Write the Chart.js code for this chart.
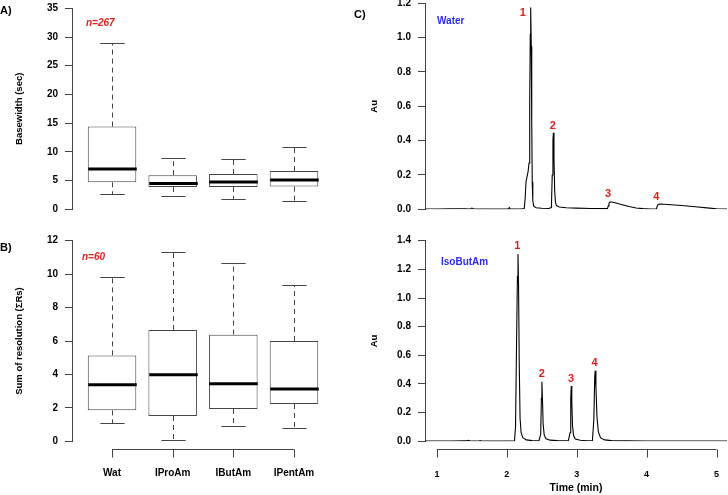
<!DOCTYPE html>
<html>
<head>
<meta charset="utf-8">
<script src="https://cdn.jsdelivr.net/npm/chart.js@4.4.1/dist/chart.umd.min.js"></script>
<style>
  html, body { margin: 0; padding: 0; background: #fff; overflow: hidden; }
  #fig { position: relative; width: 728px; height: 495px; overflow: hidden;
         font-family: 'Liberation Sans', Arial, sans-serif; font-weight: bold; }
  #fig canvas { position: absolute; }
  .lbl { position: absolute; font-size: 10px; line-height: 12px; white-space: nowrap; }
  .panel { font-size: 11px; }
  .red { color: #e0201c; font-style: italic; }
  .blue { color: #2b2bf0; }
</style>
</head>
<body>
<div id="fig">
  <canvas id="chartA" width="345" height="250" style="left:0;top:-10px"></canvas>
  <canvas id="chartB" width="345" height="270" style="left:0;top:225px"></canvas>
  <canvas id="chartC1" width="383" height="235" style="left:345px;top:-10px"></canvas>
  <canvas id="chartC2" width="383" height="270" style="left:345px;top:225px"></canvas>

  <div class="lbl panel" style="left:0;top:4px">A)</div>
  <div class="lbl panel" style="left:0;top:241px">B)</div>
  <div class="lbl panel" style="left:354px;top:8px">C)</div>
  <div class="lbl red" style="left:86px;top:17px">n=267</div>
  <div class="lbl red" style="left:82px;top:251px">n=60</div>
  <div class="lbl blue" style="left:437px;top:15px">Water</div>
  <div class="lbl blue" style="left:441px;top:256px">IsoButAm</div>
</div>

<script>
const FONT = "'Liberation Sans', Arial, sans-serif";
const AXIS = '#444';

// box plot groups
const groups = ['Wat', 'IProAm', 'IButAm', 'IPentAm'];
const groupPos = [1, 2, 3, 4];

// A) basewidth (sec)
const bwLow  = [2.6, 2.4, 1.8, 1.45];
const bwQ1   = [4.7, 3.9, 3.9, 3.95];
const bwMed  = [7.0, 4.5, 4.75, 5.1];
const bwQ3   = [14.4, 5.95, 6.15, 6.65];
const bwHigh = [29.0, 9.0, 8.8, 10.85];

// B) sum of resolution
const rsLow  = [1.1, 0.1, 0.93, 0.81];
const rsQ1   = [1.85, 1.51, 1.93, 2.23];
const rsMed  = [3.39, 3.98, 3.45, 3.13];
const rsQ3   = [5.14, 6.66, 6.38, 6.0];
const rsHigh = [9.81, 11.34, 10.68, 9.37];

// C) chromatograms
const waterTime = [0.83, 1.0, 1.2, 1.4, 1.48, 1.5, 1.53, 1.7, 1.9, 2.02, 2.036, 2.05, 2.2, 2.25, 2.262, 2.275,
  2.29, 2.305, 2.318, 2.328, 2.336, 2.342, 2.35, 2.357, 2.364, 2.372, 2.385, 2.42, 2.5, 2.6, 2.638, 2.65,
  2.66, 2.667, 2.675, 2.685, 2.695, 2.71, 2.75, 2.85, 3.0, 3.2, 3.44, 3.452, 3.462, 3.48, 3.55, 3.65,
  3.75, 3.85, 3.95, 4.05, 4.14, 4.152, 4.165, 4.19, 4.3, 4.5, 4.7, 4.9, 5.0, 5.15];
const waterAu = [0.002, 0.002, 0.003, 0.003, 0.002, 0.007, 0.002, 0.001, 0.001, 0.001, 0.01, 0.001, 0.002, 0.004, 0.06, 0.16,
  0.19, 0.22, 0.27, 0.62, 1.02, 1.176, 0.95, 0.5, 0.16, 0.05, 0.018, 0.009, 0.006, 0.005, 0.01, 0.2,
  0.4, 0.446, 0.3, 0.11, 0.045, 0.022, 0.013, 0.009, 0.007, 0.005, 0.004, 0.02, 0.035, 0.044, 0.038, 0.027,
  0.016, 0.008, 0.004, 0.002, 0.002, 0.018, 0.028, 0.031, 0.028, 0.022, 0.015, 0.007, 0.003, 0.002];

const isoTime = [0.83, 1.0, 1.2, 1.4, 1.43, 1.45, 1.47, 1.6, 1.62, 1.64, 1.8, 2.0, 2.11, 2.125, 2.14, 2.152,
  2.16, 2.168, 2.178, 2.19, 2.205, 2.23, 2.28, 2.36, 2.46, 2.485, 2.495, 2.502, 2.51, 2.52, 2.535, 2.56,
  2.62, 2.72, 2.88, 2.905, 2.915, 2.922, 2.93, 2.94, 2.955, 2.98, 3.05, 3.15, 3.225, 3.245, 3.258, 3.265,
  3.275, 3.29, 3.31, 3.34, 3.4, 3.5, 3.7, 4.0, 4.5, 5.15];
const isoAu = [0.001, 0.002, 0.002, 0.003, 0.003, 0.007, 0.003, 0.002, 0.005, 0.002, 0.001, 0.001, 0.002, 0.1, 0.7, 1.15,
  1.307, 1.1, 0.55, 0.16, 0.06, 0.025, 0.01, 0.005, 0.004, 0.05, 0.3, 0.416, 0.3, 0.12, 0.045, 0.018,
  0.008, 0.005, 0.004, 0.06, 0.3, 0.386, 0.28, 0.11, 0.04, 0.016, 0.007, 0.004, 0.005, 0.15, 0.45, 0.493,
  0.38, 0.17, 0.065, 0.025, 0.01, 0.005, 0.003, 0.002, 0.002, 0.002];

const peakNames = ['1', '2', '3', '4'];
const waterLabelT  = [2.23, 2.66, 3.45, 4.14];
const waterLabelAu = [1.143, 0.485, 0.089, 0.072];
const isoLabelT  = [2.15, 2.50, 2.92, 3.255];
const isoLabelAu = [1.363, 0.47, 0.435, 0.546];

const timeTicks = [1, 2, 3, 4, 5];

function line(ctx, x0, y0, x1, y1) {
  ctx.beginPath(); ctx.moveTo(x0, y0); ctx.lineTo(x1, y1); ctx.stroke();
}

// whiskers, medians, R-style x axis and peak numbers
const rPlot = {
  id: 'rPlot',
  afterDatasetsDraw(chart, args, opts) {
    const ctx = chart.ctx, xs = chart.scales.x, ys = chart.scales.y;
    ctx.save();
    if (opts.box) {
      const b = opts.box;
      const bars = chart.getDatasetMeta(0).data;
      b.pos.forEach((p, i) => {
        const px = Math.round(xs.getPixelForValue(p)) + 0.5;
        const hw = bars[i].width / 2;
        const yHi = Math.round(ys.getPixelForValue(b.high[i])) + 0.5;
        const yLo = Math.round(ys.getPixelForValue(b.low[i])) + 0.5;
        ctx.strokeStyle = AXIS; ctx.lineWidth = 1;
        ctx.setLineDash([5, 4]);
        line(ctx, px, ys.getPixelForValue(b.q3[i]), px, yHi);
        line(ctx, px, ys.getPixelForValue(b.q1[i]), px, yLo);
        ctx.setLineDash([]);
        line(ctx, px - hw / 2, yHi, px + hw / 2, yHi);
        line(ctx, px - hw / 2, yLo, px + hw / 2, yLo);
        ctx.strokeStyle = '#000'; ctx.lineWidth = 3;
        const ym = ys.getPixelForValue(b.med[i]);
        line(ctx, px - hw, ym, px + hw, ym);
      });
    }
    if (opts.peaks) {
      const pk = opts.peaks;
      ctx.fillStyle = '#e0201c';
      ctx.font = 'bold 11px ' + FONT;
      ctx.textAlign = 'center'; ctx.textBaseline = 'middle';
      pk.t.forEach((t, i) => {
        ctx.fillText(pk.text[i], xs.getPixelForValue(t), ys.getPixelForValue(pk.au[i]));
      });
    }
    if (opts.xLine) {
      const ticks = xs.ticks;
      const yl = Math.round(chart.chartArea.bottom) + 8.5;
      const x0 = xs.getPixelForValue(ticks[0].value);
      const x1 = xs.getPixelForValue(ticks[ticks.length - 1].value);
      ctx.strokeStyle = AXIS; ctx.lineWidth = 1;
      line(ctx, x0, yl, x1, yl);
      ticks.forEach(t => {
        const px = Math.round(xs.getPixelForValue(t.value)) + 0.5;
        line(ctx, px, yl, px, yl + 8);
      });
    }
    ctx.restore();
  }
};

function yAxis(min, max, step, title, width, titlePad, digits) {
  return {
    min: min, max: max,
    ticks: {
      stepSize: step, color: '#000', padding: 7,
      font: { family: FONT, size: 10, weight: 'bold' },
      callback: v => digits ? v.toFixed(digits) : String(v)
    },
    grid: { display: true, drawOnChartArea: false, drawTicks: true, tickLength: 7, color: AXIS },
    border: { display: true, color: AXIS, width: 1 },
    title: {
      display: true, text: title, color: '#000',
      font: { family: FONT, size: 9.5, weight: 'bold' },
      padding: { top: titlePad, bottom: 0 }
    },
    afterFit: s => { s.width = width; }
  };
}

// the x axis line is drawn by rPlot; invisible tick marks only push the labels down
function xGrid(len) {
  return { display: true, drawOnChartArea: false, drawTicks: true, tickLength: len, color: 'rgba(0,0,0,0)' };
}

function boxChart(id, low, q1, med, q3, high, yMax, yStep, yTitle, showX, pad, axisH) {
  new Chart(document.getElementById(id), {
    type: 'bar',
    data: {
      datasets: [{
        data: groupPos.map((p, i) => ({ x: p, y: [q1[i], q3[i]] })),
        backgroundColor: '#fff',
        borderColor: AXIS,
        borderWidth: 1,
        borderSkipped: false,
        barPercentage: 0.8,
        categoryPercentage: 1
      }]
    },
    options: {
      responsive: false,
      animation: false,
      layout: { padding: pad },
      plugins: {
        legend: { display: false },
        tooltip: { enabled: false },
        rPlot: { box: { pos: groupPos, low: low, q1: q1, med: med, q3: q3, high: high }, xLine: showX }
      },
      scales: {
        x: {
          type: 'linear', min: 0.34, max: 4.66, offset: false,
          display: showX,
          afterBuildTicks: s => { s.ticks = groupPos.map(v => ({ value: v })); },
          ticks: {
            autoSkip: false, maxRotation: 0, color: '#000', padding: 0,
            font: { family: FONT, size: 10, weight: 'bold' },
            callback: (v, i) => groups[i]
          },
          grid: xGrid(26),
          border: { display: false },
          afterFit: s => { if (axisH) s.height = axisH; }
        },
        y: yAxis(0, yMax, yStep, yTitle, 72, 14, 0)
      }
    },
    plugins: [rPlot]
  });
}

function chromChart(id, time, au, yMax, labT, labAu, showX, pad, axisH) {
  new Chart(document.getElementById(id), {
    type: 'line',
    data: {
      datasets: [{
        data: time.map((t, i) => ({ x: t, y: au[i] })),
        borderColor: '#000',
        borderWidth: 1.1,
        pointRadius: 0,
        tension: 0,
        fill: false
      }]
    },
    options: {
      responsive: false,
      animation: false,
      layout: { padding: pad },
      plugins: {
        legend: { display: false },
        tooltip: { enabled: false },
        rPlot: { peaks: { t: labT, au: labAu, text: peakNames }, xLine: showX }
      },
      scales: {
        x: {
          type: 'linear', min: 0.83, max: 5.15,
          display: showX,
          afterBuildTicks: s => { s.ticks = timeTicks.map(v => ({ value: v })); },
          ticks: {
            autoSkip: false, maxRotation: 0, color: '#000', padding: 0,
            font: { family: FONT, size: 9, weight: 'bold' },
            callback: v => String(v)
          },
          grid: xGrid(28),
          border: { display: false },
          title: {
            display: true, text: 'Time (min)', color: '#000',
            font: { family: FONT, size: 10.5, weight: 'bold' },
            padding: { top: 0, bottom: 1 }
          },
          afterFit: s => { if (axisH) s.height = axisH; }
        },
        y: yAxis(0, yMax, 0.2, 'Au', 80, 24, 1)
      }
    },
    plugins: [rPlot]
  });
}

boxChart('chartA', bwLow, bwQ1, bwMed, bwQ3, bwHigh, 35, 5, 'Basewidth (sec)', false,
  { top: 18.3, right: 11, bottom: 30.7, left: 0 }, 0);
boxChart('chartB', rsLow, rsQ1, rsMed, rsQ3, rsHigh, 12, 2, 'Sum of resolution (\u03A3Rs)', true,
  { top: 15.7, right: 11, bottom: 0, left: 0 }, 53.7);
chromChart('chartC1', waterTime, waterAu, 1.2, waterLabelT, waterLabelAu, false,
  { top: 13.3, right: 1, bottom: 15.7, left: 0 }, 0);
chromChart('chartC2', isoTime, isoAu, 1.4, isoLabelT, isoLabelAu, true,
  { top: 15.7, right: 1, bottom: 0, left: 0 }, 53.7);
</script>
</body>
</html>
